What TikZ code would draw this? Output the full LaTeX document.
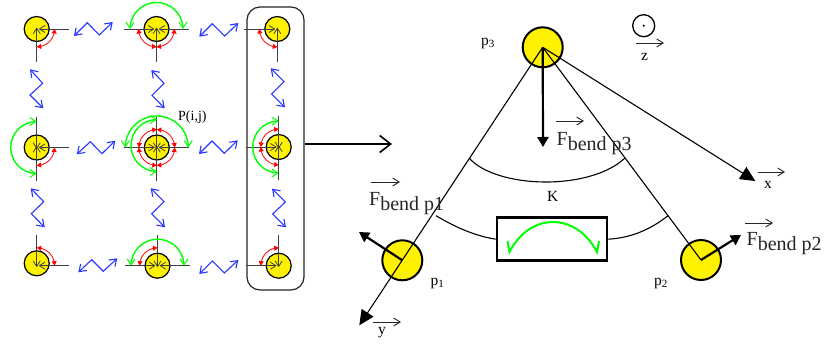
\documentclass[tikz,border=0pt]{standalone}
\usepackage{fontspec}
\setmainfont{Liberation Serif}
\usetikzlibrary{arrows.meta,bending}
\definecolor{springblue}{RGB}{40,55,255}
\tikzset{
 cellc/.style={circle,draw=black,fill=yellow,line width=1.2pt,minimum size=25pt,inner sep=0pt},
 bigc/.style={circle,draw=black,fill=yellow,line width=2pt,minimum size=40pt,inner sep=0pt},
 spoke/.style={black!75,line width=1pt,-{Straight Barb[length=5.5pt,width=7pt,line width=.8pt]}},
 redarc/.style={red,line width=.8pt,{Triangle[length=4.5pt,width=5pt,flex]}-{Triangle[length=4.5pt,width=5pt,flex]}},
 greenarc/.style={green,line width=1.4pt,{Straight Barb[length=6pt,width=8pt,flex,line width=1pt]}-{Straight Barb[length=6pt,width=8pt,flex,line width=1pt]}},
 spring/.style={springblue,line width=1.1pt,{Straight Barb[length=6.5pt,width=9pt,line width=1.1pt]}-{Straight Barb[length=6.5pt,width=9pt,line width=1.1pt]}},
 thinl/.style={black,line width=1.1pt},
 vecar/.style={black!85,line width=.9pt,-{Straight Barb[length=6.5pt,width=8pt,line width=.9pt]}},
 forcear/.style={black,line width=2.2pt,-{Triangle[length=10pt,width=11pt]}},
 axisar/.style={black,line width=1.1pt,-{Triangle[length=15pt,width=14pt]}},
 lab/.style={inner sep=0pt,anchor=base west,font=\fontsize{15.5}{16}\selectfont},
 flab/.style={inner sep=0pt,anchor=base west,font=\fontsize{20}{20}\selectfont,text=black!85},
}
\newcommand{\spE}[1]{\draw[spoke] ([shift={(32,0)}]#1.center) -- ([shift={(2,0)}]#1.center);}
\newcommand{\spW}[1]{\draw[spoke] ([shift={(-33,0)}]#1.center) -- ([shift={(-2,0)}]#1.center);}
\newcommand{\spS}[1]{\draw[spoke] ([shift={(0,33)}]#1.center) -- ([shift={(0,-1.5)}]#1.center);}
\newcommand{\spN}[1]{\draw[spoke] ([shift={(0,-31)}]#1.center) -- ([shift={(0,1.5)}]#1.center);}
\newcommand{\rarc}[3]{\draw[redarc] ([shift={(#2:18)}]#1.center) arc[start angle=#2,end angle=#3,radius=18];}
\newcommand{\garc}[4]{\draw[greenarc] ([shift={(#2:#4)}]#1.center) arc[start angle=#2,end angle=#3,radius=#4];}
\newcommand{\ssub}[2]{#1\raisebox{-2pt}{\fontsize{11}{11}\selectfont #2}}
\newcommand{\Fb}[1]{F\raisebox{-5.5pt}{bend #1}}
\begin{document}
\begin{tikzpicture}[x=1pt,y=1pt,yscale=-1]
\useasboundingbox (0,0) rectangle (824,343);
% frame
\node[draw=black!85,line width=1.2pt,rounded corners=13pt,inner sep=0pt,minimum width=57pt,minimum height=283pt] (frame) at (275.5,148.5) {};
% cells
\node[cellc] (c11) at (36.7,29) {};
\node[cellc] (c12) at (156.5,29) {};
\node[cellc] (c13) at (277.3,29) {};
\node[cellc] (c21) at (36.7,147.5) {};
\node[cellc] (c22) at (156.8,147.5) {};
\node[cellc] (c23) at (278.7,147) {};
\node[cellc] (c31) at (36.7,263.3) {};
\coordinate (j31) at (36.7,265.7);
\coordinate (g22) at (157,145.5);
\node[cellc] (c32) at (157.5,265.7) {};
\node[cellc] (c33) at (278.7,265.7) {};
\spS{c11}\spE{c11}
\spW{c12}\spE{c12}\spS{c12}
\spW{c13}\spS{c13}
\spN{c21}\spS{c21}\spE{c21}
\spN{c22}\spS{c22}\spE{c22}\spW{c22}
\spN{c23}\spS{c23}\spW{c23}
\spN{j31}\spE{j31}
\spN{c32}\spE{c32}\spW{c32}
\spN{c33}\spW{c33}
\rarc{c11}{0}{90}
\rarc{c12}{0}{90}\rarc{c12}{90}{180}
\rarc{c13}{90}{180}
\rarc{c21}{0}{90}
\rarc{c22}{0}{90}\rarc{c22}{90}{180}\rarc{c22}{180}{270}\rarc{c22}{270}{360}
\rarc{c23}{90}{180}\rarc{c23}{180}{270}
\rarc{j31}{270}{360}
\rarc{c32}{180}{270}
\rarc{c33}{180}{270}
\garc{c12}{180}{360}{26.5}
\garc{c21}{90}{270}{26}
\garc{c22}{180}{360}{31.5}
\garc{g22}{90}{270}{26}
\garc{c23}{90}{270}{26}
\garc{c32}{180}{360}{26.5}
% springs
\foreach \n/\a/\b/\c/\d/\e/\f/\g/\h in {
 s1/74/36/87.3/22.7/99.3/35/112.7/22,
 s2/76.7/154.3/90.3/141.7/102/153.7/115.3/140.7,
 s3/78.3/272.3/91.7/259.7/103.3/271.3/117.3/258.3,
 s4/199.3/36.7/212.3/23.7/224.7/36/238.3/23,
 s5/199/154/212/141/224.3/153.3/237.7/140.3,
 s6/199.3/274/212.3/261/224.3/273/238.3/260,
 s7/30/69.3/42.7/83.3/30/95/43.3/108.3,
 s8/151.3/70/164/83.3/152/95.3/164.7/108.3,
 s9/30.7/188.3/43.7/201.7/31.3/213.7/44.7/227.3,
 s10/150.7/188.3/164/201.7/151.7/213.7/165/227.3,
 s11/270.7/68.3/284/81.7/271.7/94/285/107.3,
 s12/272/188.7/285.3/202/272.7/214/286/227.3}
 {\draw[spring] (\a,\b) -- (\c,\d) -- (\e,\f) -- (\g,\h);}
\node[lab,font=\fontsize{14}{14}\selectfont] (pij) at (178,120.5) {P(i,j)};
% big arrow
\coordinate (gs) at (305,144);
\coordinate (ge) at (392,144);
\draw[black,line width=2.4pt,-{Straight Barb[length=11pt,width=17pt,line width=1.6pt]}] (gs) -- (ge);
% triangle
\node[bigc] (p3) at (542.7,47.3) {};
\node[bigc] (p1) at (402.3,260.3) {};
\node[bigc] (p2) at (701,260) {};
\coordinate (yt) at (359.3,325.3);
\coordinate (xt) at (755.3,181);
\coordinate (f3) at (543,147);
\coordinate (f1) at (359,232);
\coordinate (f2) at (741,235);
\draw[axisar] (p3.center) -- (yt);
\draw[thinl] (p3.center) -- (p2.center);
\draw[axisar] (p3.center) -- (xt);
\draw[forcear] (p3.center) -- (f3);
\draw[forcear] (p1.center) -- (f1);
\draw[forcear] (p2.center) -- (f2);
% arcs
\coordinate (k1) at (469,158);
\coordinate (k2) at (625,158);
\draw[thinl] (k1) .. controls (497,189) and (590,191) .. (k2);
\node[draw=black,line width=2.5pt,inner sep=0pt,minimum width=110pt,minimum height=43pt] (bx) at (552,239.2) {};
\coordinate (l1) at (436,215.7);
\coordinate (r2) at (668,215.7);
\draw[thinl] (l1) .. controls (455,227) and (475,236) .. (bx.west);
\draw[thinl] (bx.east) .. controls (630,238) and (650,230) .. (r2);
\coordinate (ga0) at (507.5,241);
\coordinate (ga) at (509.5,252);
\coordinate (gb) at (597,252);
\coordinate (gb0) at (599,241);
\draw[green,line width=2pt,line join=miter] (ga0) -- (ga) .. controls (530,212) and (576,212) .. (gb) -- (gb0);
% labels
\node[lab] (lp3) at (481,45) {\ssub{p}{3}};
\node[lab] (lp1) at (430.5,285) {\ssub{p}{1}};
\node[lab] (lp2) at (654,285) {\ssub{p}{2}};
\node[lab] (lk) at (547,201) {K};
\node[circle,draw=black,line width=1.3pt,minimum size=22pt,inner sep=0pt] (zc) at (643.7,25.7) {};
\fill[black] (zc.center) circle (1.2);
\coordinate (zv1) at (636,43);\coordinate (zv2) at (664,43);
\draw[vecar] (zv1) -- (zv2);
\node[lab] (lz) at (641,60) {z};
\coordinate (xv1) at (758,172);\coordinate (xv2) at (785,172);
\draw[vecar] (xv1) -- (xv2);
\node[lab] (lx) at (764,188) {x};
\coordinate (yv1) at (373,322);\coordinate (yv2) at (401,322);
\draw[vecar] (yv1) -- (yv2);
\node[lab] (ly) at (378,334) {y};
\coordinate (a1) at (556,121);\coordinate (a2) at (584,121);
\draw[vecar] (a1) -- (a2);
\node[flab] (f3l) at (556.5,145) {\Fb{p3}};
\coordinate (b1) at (371,182);\coordinate (b2) at (400,182);
\draw[vecar] (b1) -- (b2);
\node[flab] (f1l) at (369,205) {\Fb{p1}};
\coordinate (c1) at (745,223);\coordinate (c2) at (773,223);
\draw[vecar] (c1) -- (c2);
\node[flab] (f2l) at (746.5,245) {\Fb{p2}};
\end{tikzpicture}
\end{document}
